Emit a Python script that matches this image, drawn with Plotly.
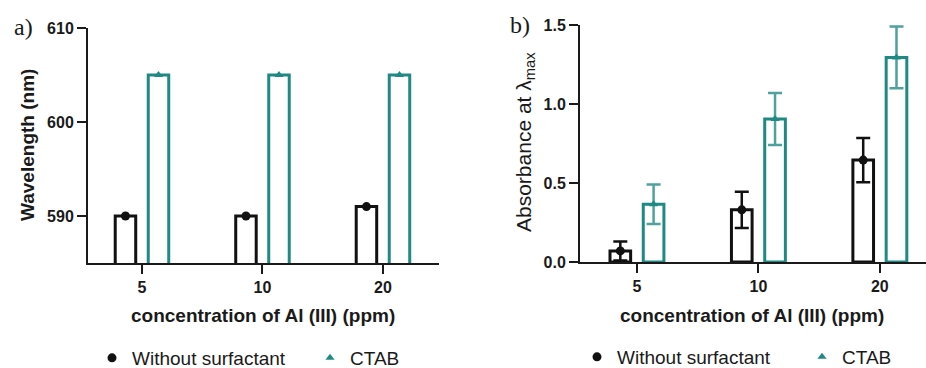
import plotly.graph_objects as go

# ---------------- data ----------------
categories = ["5", "10", "20"]
wl_without = [590, 590, 591]
wl_ctab = [605, 605, 605]
abs_without = [0.07, 0.33, 0.645]
abs_without_err = [0.06, 0.115, 0.14]
abs_ctab = [0.365, 0.905, 1.295]
abs_ctab_err = [0.125, 0.165, 0.195]
wl_ticks = [590, 600, 610]
abs_ticks = [0.0, 0.5, 1.0, 1.5]

# ---------------- style ----------------
BLACK = "#111111"
TEAL = "#1f8a84"
TEAL_ERR = "#4fa19d"
FONT = "Liberation Sans"
OFF = 0.137
BW = 0.17
W, H = 926, 368

idx = list(range(len(categories)))
x_left = [i - OFF for i in idx]
x_right = [i + OFF for i in idx]

fig = go.Figure()

# panel a
fig.add_trace(go.Bar(x=x_left, y=wl_without, width=BW, base=0,
                     marker=dict(color="white", line=dict(color=BLACK, width=3)),
                     showlegend=False, xaxis="x", yaxis="y"))
fig.add_trace(go.Bar(x=x_right, y=wl_ctab, width=BW, base=0,
                     marker=dict(color="white", line=dict(color=TEAL, width=3)),
                     showlegend=False, xaxis="x", yaxis="y"))
fig.add_trace(go.Scatter(x=x_left, y=wl_without, mode="markers", name="Without surfactant",
                         marker=dict(symbol="circle", size=9, color=BLACK),
                         legend="legend", xaxis="x", yaxis="y", cliponaxis=False))
fig.add_trace(go.Scatter(x=x_right, y=wl_ctab, mode="markers", name="CTAB",
                         marker=dict(symbol="triangle-up", size=8, color=TEAL),
                         legend="legend2", xaxis="x", yaxis="y", cliponaxis=False))

# panel b
fig.add_trace(go.Bar(x=x_left, y=abs_without, width=BW,
                     marker=dict(color="white", line=dict(color=BLACK, width=3)),
                     error_y=dict(type="data", array=abs_without_err, color=BLACK,
                                  thickness=2.5, width=7),
                     showlegend=False, xaxis="x2", yaxis="y2"))
fig.add_trace(go.Bar(x=x_right, y=abs_ctab, width=BW,
                     marker=dict(color="white", line=dict(color=TEAL, width=3)),
                     error_y=dict(type="data", array=abs_ctab_err, color=TEAL_ERR,
                                  thickness=2.5, width=7),
                     showlegend=False, xaxis="x2", yaxis="y2"))
fig.add_trace(go.Scatter(x=x_left, y=abs_without, mode="markers", name="Without surfactant",
                         marker=dict(symbol="circle", size=9, color=BLACK),
                         legend="legend3", xaxis="x2", yaxis="y2", cliponaxis=False))
fig.add_trace(go.Scatter(x=x_right, y=abs_ctab, mode="markers", name="CTAB",
                         marker=dict(symbol="triangle-up", size=8, color=TEAL),
                         legend="legend4", xaxis="x2", yaxis="y2", cliponaxis=False))

axis_common = dict(showline=True, linecolor="#1a1a1a", linewidth=2, ticks="outside",
                   ticklen=9, tickwidth=2, tickcolor="#1a1a1a", showgrid=False,
                   zeroline=False, automargin=False,
                   tickfont=dict(family=FONT, size=16, color="#1a1a1a", weight="bold"))


def leg(xc, yc):
    # symbol centre at xc (px), text centre at yc (px)
    return dict(orientation="h", xref="container", yref="container",
                x=(xc - 20) / W, xanchor="left", y=1 - yc / H, yanchor="middle",
                font=dict(family=FONT, size=19, color="#1a1a1a"),
                bgcolor="rgba(0,0,0,0)", borderwidth=0)


fig.update_layout(
    width=W, height=H, autosize=False,
    margin=dict(l=0, r=0, t=0, b=0, autoexpand=False),
    paper_bgcolor="white", plot_bgcolor="white",
    font=dict(family=FONT, color="#1a1a1a"),
    xaxis=dict(domain=[88 / W, 439 / W], range=[-0.448, 2.465], tickvals=idx,
               ticktext=categories, anchor="y", **axis_common),
    yaxis=dict(domain=[1 - 263 / H, 1 - 28 / H], range=[585, 610], tickvals=wl_ticks,
               anchor="x", **axis_common),
    xaxis2=dict(domain=[580 / W, 1.0], range=[-0.469, 2.38], tickvals=idx,
                ticktext=categories, anchor="y2", **axis_common),
    yaxis2=dict(domain=[1 - 262 / H, 1 - 25 / H], range=[0, 1.5], tickvals=abs_ticks,
                tickformat=".1f", anchor="x2", **axis_common),
    legend=leg(112, 358),
    legend2=leg(330, 358),
    legend3=leg(597, 357),
    legend4=leg(822, 357),
    showlegend=True,
    barmode="overlay",
)


def ann(text, xc, yc, font, angle=0):
    return dict(text=text, x=xc / W, y=1 - yc / H, xref="paper", yref="paper",
                xanchor="center", yanchor="middle", showarrow=False, textangle=angle,
                font=font)


serif = dict(family="Liberation Serif", size=24, color="#1a1a1a")
bold19 = dict(family=FONT, size=19, color="#1a1a1a", weight="bold")
reg21 = dict(family=FONT, size=21, color="#1a1a1a")

annotations = [
    ann("a)", 23, 27, serif),
    ann("b)", 520, 25, serif),
    ann("Wavelength (nm)", 27, 145, bold19, -90),
    ann("Absorbance at λ<sub>max</sub>", 525, 142, reg21, -90),
    ann("concentration of Al (III) (ppm)", 263, 315, bold19),
    ann("concentration of Al (III) (ppm)", 752, 315, bold19),
]
fig.update_layout(annotations=annotations)

fig.write_html("out.html")
